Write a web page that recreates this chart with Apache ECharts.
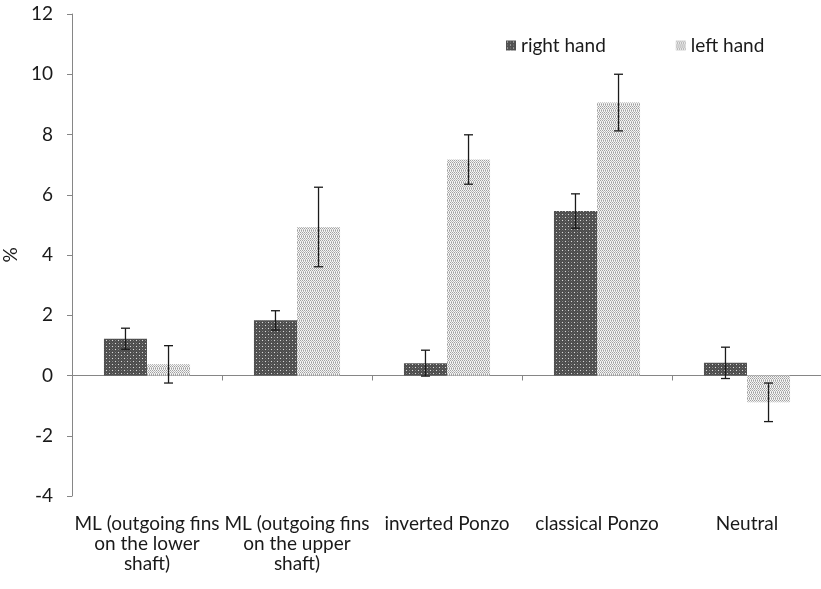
<!DOCTYPE html>
<html><head><meta charset="utf-8">
<script src="https://cdn.jsdelivr.net/npm/echarts@6/dist/echarts.min.js"></script>
<style>html,body{margin:0;padding:0;background:#fff}#c{width:821px;height:589px}</style>
</head><body><div id="c"></div>
<script>
const categories = ['ML (outgoing fins\non the lower\nshaft)', 'ML (outgoing fins\non the upper\nshaft)', 'inverted Ponzo', 'classical Ponzo', 'Neutral'];
const seriesNames = ['right hand', 'left hand'];
const rightHand = [1.22, 1.83, 0.41, 5.46, 0.42];
const rightErr = [0.35, 0.32, 0.43, 0.57, 0.52];
const leftHand = [0.37, 4.93, 7.17, 9.06, -0.89];
const leftErr = [0.62, 1.32, 0.82, 0.94, 0.64];
const yTicks = {min: -4, max: 12, interval: 2};

function makePattern(kind) {
  const c = document.createElement('canvas');
  c.width = 6; c.height = 6;
  const g = c.getContext('2d');
  if (kind === 'dark') {
    g.fillStyle = '#575757'; g.fillRect(0, 0, 6, 6);
    g.fillStyle = '#4a4a4a';
    for (let y = 0; y < 6; y++) for (let x = 0; x < 6; x++) if ((x + y) % 2 === 0) g.fillRect(x, y, 1, 1);
    g.fillStyle = '#d8d8d8';
    g.fillRect(1, 1, 1, 1); g.fillRect(4, 4, 1, 1);
    g.fillStyle = '#8a8a8a';
    g.fillRect(4, 1, 1, 1); g.fillRect(1, 4, 1, 1);
  } else {
    g.fillStyle = '#f4f4f4'; g.fillRect(0, 0, 6, 6);
    g.fillStyle = '#a0a0a0';
    for (let y = 0; y < 6; y += 2) for (let x = 0; x < 6; x += 2) g.fillRect(x + ((y / 2) % 2), y, 1, 1);
    g.fillStyle = '#bdbdbd';
    for (let y = 1; y < 6; y += 2) for (let x = 1; x < 6; x += 2) g.fillRect(x, y, 1, 1);
  }
  return c;
}
const darkPat = {image: makePattern('dark'), repeat: 'repeat'};
const lightPat = {image: makePattern('light'), repeat: 'repeat'};

const BAR_FRAC = 0.287;
function errSeries(vals, errs, side) {
  return {
    type: 'custom',
    xAxisIndex: 0,
    z: 10,
    silent: true,
    data: vals.map((v, i) => [i, v, errs[i]]),
    renderItem: function (params, api) {
      const i = api.value(0), v = api.value(1), e = api.value(2);
      const catW = api.size([1, 0])[0];
      const bw = catW * BAR_FRAC;
      const top = api.coord([i, v + e]);
      const bot = api.coord([i, v - e]);
      const x = top[0] + side * bw / 2;
      const cap = 4.5;
      const st = {stroke: '#1a1a1a', lineWidth: 1.3};
      return {type: 'group', children: [
        {type: 'line', shape: {x1: x, y1: top[1], x2: x, y2: bot[1]}, style: st},
        {type: 'line', shape: {x1: x - cap, y1: top[1], x2: x + cap, y2: top[1]}, style: st},
        {type: 'line', shape: {x1: x - cap, y1: bot[1], x2: x + cap, y2: bot[1]}, style: st}
      ]};
    }
  };
}

const chart = echarts.init(document.getElementById('c'));
const FONT = 'Lato';
const FS = 19;
chart.setOption({
  animation: false,
  textStyle: {fontFamily: FONT},
  grid: {left: 72, top: 14, width: 750, bottom: 93, containLabel: false, outerBoundsMode: 'none'},
  legend: {
    data: seriesNames, left: 501, top: 31, itemWidth: 10, itemHeight: 10, itemGap: 70,
    textStyle: {fontFamily: FONT, fontSize: FS, color: '#1a1a1a'}, icon: 'rect'
  },
  xAxis: [{
    type: 'category', data: categories, position: 'bottom',
    axisLine: {onZero: true, lineStyle: {color: '#868686', width: 1}},
    axisTick: {show: true, length: 5, lineStyle: {color: '#868686'}},
    axisLabel: {show: false}
  }, {
    type: 'category', data: categories, position: 'bottom',
    axisLine: {show: false, onZero: false}, axisTick: {show: false},
    axisLabel: {show: true, interval: 0, margin: 18, fontFamily: FONT, fontSize: FS, lineHeight: 20, color: '#1a1a1a', align: 'center'}
  }],
  yAxis: {
    type: 'value', min: yTicks.min, max: yTicks.max, interval: yTicks.interval,
    name: '%', nameLocation: 'middle', nameGap: 49, nameRotate: 90,
    nameTextStyle: {fontFamily: FONT, fontSize: FS, color: '#1a1a1a'},
    axisLine: {show: true, lineStyle: {color: '#868686'}},
    axisTick: {show: true, length: 5, lineStyle: {color: '#868686'}},
    splitLine: {show: false},
    axisLabel: {margin: 19, fontFamily: FONT, fontSize: FS, color: '#1a1a1a'}
  },
  series: [
    {name: seriesNames[0], type: 'bar', xAxisIndex: 0, data: rightHand, barWidth: (BAR_FRAC * 100) + '%', barGap: '0%', itemStyle: {color: darkPat}},
    {name: seriesNames[1], type: 'bar', xAxisIndex: 0, data: leftHand, barWidth: (BAR_FRAC * 100) + '%', barGap: '0%', itemStyle: {color: lightPat}},
    errSeries(rightHand, rightErr, -1),
    errSeries(leftHand, leftErr, 1)
  ]
});
</script></body></html>
